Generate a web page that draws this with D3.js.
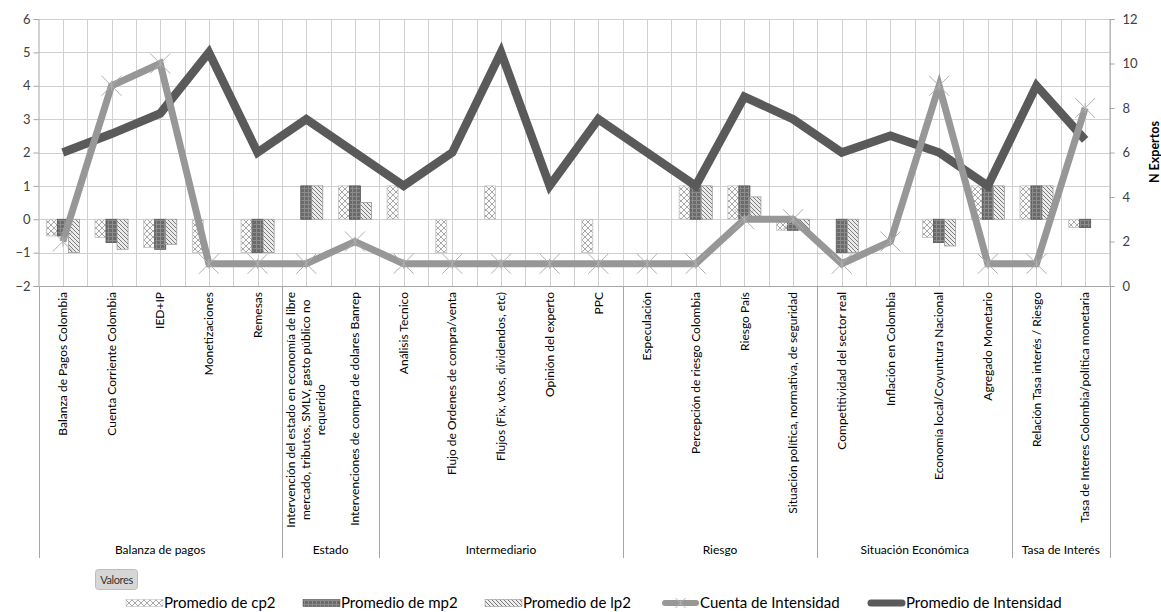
<!DOCTYPE html>
<html><head><meta charset="utf-8">
<script src="https://cdn.jsdelivr.net/npm/d3@7"></script>
<style>
html,body{margin:0;padding:0;background:#fff;}
svg{display:block;font-family:Lato,"Noto Sans",sans-serif;}
</style></head>
<body><svg id="chart" width="1161" height="612"></svg>
<script>
const categories = [
 "Balanza de Pagos Colombia","Cuenta Corriente Colombia","IED+IP","Monetizaciones","Remesas",
 "Intervención del estado en economía de libre\nmercado, tributos, SMLV, gasto público no\nrequerido",
 "Intervenciones de compra de dolares Banrep",
 "Análisis Tecnico","Flujo de Ordenes de compra/venta","Flujos (Fix, vtos, dividendos, etc)","Opinión del experto","PPC",
 "Especulación","Percepción de riesgo Colombia","Riesgo País","Situación política, normativa, de seguridad",
 "Competitividad del sector real","Inflación en Colombia","Economía local/Coyuntura Nacional","Agregado Monetario",
 "Relación Tasa interés / Riesgo","Tasa de Interes Colombia/política monetaria"
];
const groupNames = ["Balanza de pagos","Estado","Intermediario","Riesgo","Situación Económica","Tasa de Interés"];
const groupSizes = [5,2,5,4,4,2];
const cp2 = [-0.5,-0.55,-0.85,-1,-1, 0,1, 1,-1,1,0,-1, 0,1,1,-0.33, 0,0,-0.55,1, 1,-0.25];
const mp2 = [-0.5,-0.7,-0.9,0,-1, 1,1, 0,0,0,0,0, 0,1,1,-0.33, -1,0,-0.7,1, 1,-0.25];
const lp2 = [-1,-0.9,-0.75,0,-1, 1,0.5, 0,0,0,0,0, 0,1,0.67,-0.33, -1,0,-0.8,1, 1,0];
const cuentaIntensidad = [2,9,10,1,1, 1,2, 1,1,1,1,1, 1,1,3,3, 1,2,9,1, 1,8];
const promedioIntensidad = [2,2.56,3.17,5,2, 3,2, 1,2,5,1,3, 2,1,3.67,3, 2,2.5,2,1, 4,2.38];
const leftTicks = [-2,-1,0,1,2,3,4,5,6];
const rightTicks = [0,2,4,6,8,10,12];
const barSeries = ["Promedio de cp2","Promedio de mp2","Promedio de lp2"];
const lineSeries = ["Cuenta de Intensidad","Promedio de Intensidad"];

const svg = d3.select("#chart");
const L = 38.5, R = 1109.5, T = 19, B = 286;
const x = d3.scaleBand().domain(d3.range(categories.length)).range([L, R]).padding(0);
const bw = x.bandwidth();
const x1 = d3.scaleBand().domain([0,1,2]).range([bw*0.16, bw*0.84]).padding(0);
const y = d3.scaleLinear().domain([-2,6]).range([B,T]);
const y2 = d3.scaleLinear().domain([0,12]).range([B,T]);

// patterns
const defs = svg.append("defs");
const p1 = defs.append("pattern").attr("id","pcp").attr("width",6).attr("height",6).attr("patternUnits","userSpaceOnUse");
p1.append("rect").attr("width",6).attr("height",6).attr("fill","#fafafa");
p1.append("path").attr("d","M0,0L6,6M6,0L0,6M-1,5L1,7M5,-1L7,1M-1,1L1,-1M5,7L7,5").attr("stroke","#a8a8a8").attr("stroke-width",1);
const p2 = defs.append("pattern").attr("id","pmp").attr("width",4).attr("height",4).attr("patternUnits","userSpaceOnUse");
p2.append("rect").attr("width",4).attr("height",4).attr("fill","#6a6a6a");
p2.append("path").attr("d","M0,0.5H4M0.5,0V4").attr("stroke","#8c8c8c").attr("stroke-width",1);
const p3 = defs.append("pattern").attr("id","plp").attr("width",4).attr("height",4).attr("patternUnits","userSpaceOnUse");
p3.append("rect").attr("width",4).attr("height",4).attr("fill","#ececec");
p3.append("path").attr("d","M0,0L4,4M-1,3L1,5M3,-1L5,1").attr("stroke","#7a7a7a").attr("stroke-width",1);
const fills = ["url(#pcp)","url(#pmp)","url(#plp)"];
const strokes = ["#c4c4c4","#555","#9a9a9a"];

// gridlines
const grid = svg.append("g");
grid.selectAll("line.h").data(leftTicks).join("line")
  .attr("x1",L).attr("x2",R).attr("y1",d=>Math.round(y(d))+0.5).attr("y2",d=>Math.round(y(d))+0.5)
  .attr("stroke","#d0d0d0").attr("stroke-width",1);
const vgrid = [];
for (let i=0;i<categories.length;i++){ vgrid.push(x(i)); vgrid.push(x(i)+bw/2); }
vgrid.push(R);
grid.selectAll("line.v").data(vgrid.slice(1)).join("line")
  .attr("x1",d=>Math.round(d)+0.5).attr("x2",d=>Math.round(d)+0.5).attr("y1",T).attr("y2",B)
  .attr("stroke","#d0d0d0").attr("stroke-width",1);

// bars
const barData = [];
[cp2,mp2,lp2].forEach((arr,s)=>arr.forEach((v,i)=>{ if (v!==0) barData.push({i,s,v}); }));
svg.append("g").selectAll("rect").data(barData).join("rect")
  .attr("x",d=>x(d.i)+x1(d.s)).attr("width",x1.bandwidth())
  .attr("y",d=>Math.min(y(0),y(d.v))).attr("height",d=>Math.abs(y(d.v)-y(0)))
  .attr("fill",d=>fills[d.s]).attr("stroke",d=>strokes[d.s]).attr("stroke-width",0.8);

// lines
const cx = i => x(i)+bw/2;
svg.append("path").datum(promedioIntensidad)
  .attr("d", d3.line().x((d,i)=>cx(i)).y(d=>y(d)))
  .attr("fill","none").attr("stroke","#5a5a5a").attr("stroke-width",8.5).attr("stroke-linejoin","miter");
svg.append("path").datum(cuentaIntensidad)
  .attr("d", d3.line().x((d,i)=>cx(i)).y(d=>y2(d)))
  .attr("fill","none").attr("stroke","#979797").attr("stroke-width",7).attr("stroke-linejoin","miter");
const star = (g, px, py, r) => {
  g.append("path").attr("d",`M${px-r},${py-r}L${px+r},${py+r}M${px-r},${py+r}L${px+r},${py-r}M${px},${py-r*0.5}L${px},${py+r*0.5}`)
   .attr("stroke","#b0b0b0").attr("stroke-width",1).attr("fill","none");
};
const mk = svg.append("g");
cuentaIntensidad.forEach((d,i)=>star(mk, cx(i), y2(d), 10));

// axes
const axL = svg.append("g").attr("transform",`translate(${L},0)`)
  .call(d3.axisLeft(y).tickValues(leftTicks).tickSize(5).tickPadding(3).tickFormat(d3.format("d")));
const axR = svg.append("g").attr("transform",`translate(${R},0)`)
  .call(d3.axisRight(y2).tickValues(rightTicks).tickSize(5).tickPadding(8).tickFormat(d3.format("d")));
[axL,axR].forEach(a=>{
  a.select(".domain").attr("stroke","#a6a6a6");
  a.selectAll(".tick line").attr("stroke","#a6a6a6");
  a.selectAll(".tick text").attr("font-size",13).attr("fill","#404040").attr("font-family","Lato, sans-serif");
});
svg.append("line").attr("x1",L).attr("x2",R).attr("y1",B+0.5).attr("y2",B+0.5).attr("stroke","#a6a6a6");

// category labels
const catG = svg.append("g").attr("font-size",12).attr("fill","#000");
categories.forEach((c,i)=>{
  const lines = c.split("\n");
  const n = lines.length;
  const t = catG.append("text").attr("transform",`translate(${cx(i)},292) rotate(-90)`)
    .attr("text-anchor","end");
  lines.forEach((ln,k)=>{
    t.append("tspan").attr("x",0).attr("y",(k-(n-1)/2)*15).attr("dy","0.35em").text(ln);
  });
  if (n>1){
    const ts = t.selectAll("tspan").nodes();
    const w = d3.max(ts, s=>s.getComputedTextLength());
    t.attr("text-anchor","middle");
    t.selectAll("tspan").attr("x",-w/2);
  }
});

// group separators and labels
const sep = svg.append("g");
let acc = 0;
const bounds = [0];
groupSizes.forEach(s=>{acc+=s; bounds.push(acc);});
bounds.forEach(b=>{
  const xx = b===categories.length ? R : x(b);
  sep.append("line").attr("x1",Math.round(xx)+0.5).attr("x2",Math.round(xx)+0.5).attr("y1",B).attr("y2",558)
    .attr("stroke","#a6a6a6");
});
groupNames.forEach((g,k)=>{
  const a = x(bounds[k]); const b = bounds[k+1]===categories.length ? R : x(bounds[k+1]);
  sep.append("text").attr("x",(a+b)/2).attr("y",554).attr("text-anchor","middle")
    .attr("font-size",12).attr("fill","#000").text(g);
});

// right axis title
svg.append("text").attr("transform","translate(1159,152) rotate(-90)").attr("text-anchor","middle")
  .attr("font-size",12.5).attr("font-weight","bold").attr("fill","#000").text("N Expertos");

// Valores button
svg.append("rect").attr("x",95.5).attr("y",569.5).attr("width",42).attr("height",20).attr("rx",3)
  .attr("fill","#d6d6d6").attr("stroke","#bdbdbd");
svg.append("text").attr("x",116.5).attr("y",583.5).attr("text-anchor","middle").attr("font-size",11)
  .attr("fill","#333").attr("letter-spacing",-0.4).text("Valores");

// legend
const legX = [126,303,485,662,868];
const lg = svg.append("g");
const ly = 603;
barSeries.forEach((s,k)=>{
  lg.append("rect").attr("x",legX[k]).attr("y",ly-3.5).attr("width",37).attr("height",7)
    .attr("fill",fills[k]).attr("stroke",strokes[k]).attr("stroke-width",0.6);
  lg.append("text").attr("x",legX[k]+38).attr("y",ly+5).attr("font-size",15).attr("fill","#000").text(s);
});
lineSeries.forEach((s,k)=>{
  const lx = legX[3+k];
  lg.append("line").attr("x1",lx+3).attr("x2",lx+34).attr("y1",ly).attr("y2",ly)
    .attr("stroke",k===0?"#979797":"#5a5a5a").attr("stroke-width",k===0?6:7).attr("stroke-linecap","round");
  if(k===0) star(lg, lx+18.5, ly, 5);
  lg.append("text").attr("x",lx+38).attr("y",ly+5).attr("font-size",15).attr("fill","#000").text(s);
});
</script></body></html>
